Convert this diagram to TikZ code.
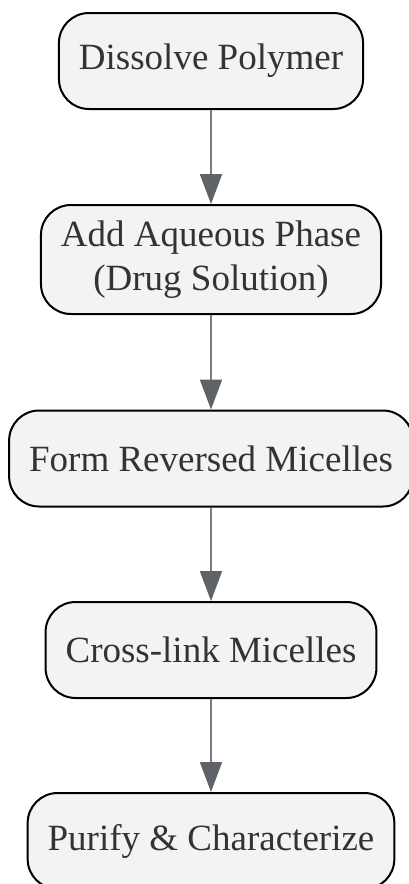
\documentclass[tikz,border=0pt]{standalone}
\usepackage{fontspec}
\setmainfont{Liberation Serif}
\usetikzlibrary{arrows.meta}
\definecolor{boxfill}{HTML}{F2F3F5}
\definecolor{linegray}{HTML}{7A7B7E}
\definecolor{headgray}{HTML}{5F6368}
\definecolor{textgray}{HTML}{333333}
\tikzset{
    stepbox/.style={draw=black,line width=2pt,fill=boxfill,rounded corners=30pt,
        minimum height=96pt,inner xsep=20pt,align=center,text=textgray,
        font=\fontsize{37}{44}\selectfont},
    flow/.style={draw=linegray,line width=2pt,
        -{Triangle[length=30pt,width=22pt,color=headgray]}}
}
\begin{document}
\begin{tikzpicture}[x=1pt,y=1pt]
        \useasboundingbox (0,0) rectangle (409,-884);
        \node[stepbox] (dissolve) at (211,-61) {Dissolve Polymer};
        \node[stepbox,minimum height=109pt] (aqueous) at (211,-259.5) {Add Aqueous Phase\\(Drug Solution)};
        \node[stepbox] (form) at (211,-458.5) {Form Reversed Micelles};
        \node[stepbox] (crosslink) at (211,-650) {Cross-link Micelles};
        \node[stepbox] (purify) at (211,-841) {Purify \& Characterize};
        \foreach \a/\b in {dissolve/aqueous,aqueous/form,form/crosslink,crosslink/purify}
            \draw[flow] (\a) -- (\b);
    \end{tikzpicture}
\end{document}
